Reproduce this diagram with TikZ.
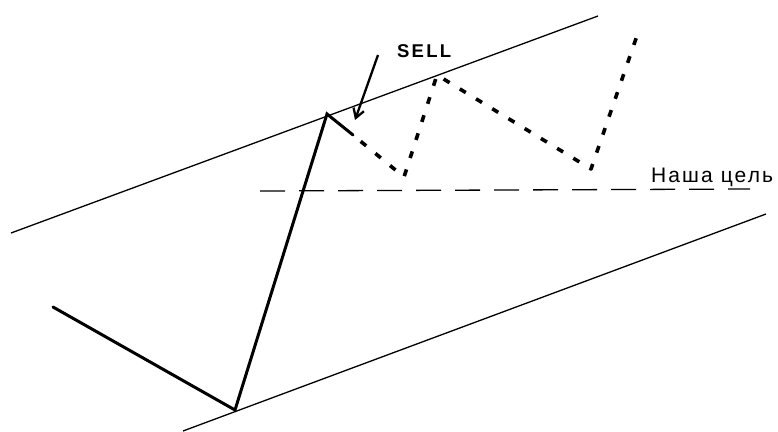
\documentclass[tikz,border=0pt]{standalone}
\usepackage{fontspec}
\setmainfont{Liberation Sans}
\newfontfamily\spacedfont[LetterSpace=10]{Liberation Sans}
\newfontfamily\sellfont[LetterSpace=12]{Liberation Sans}
\usetikzlibrary{arrows.meta}
\begin{document}
\begin{tikzpicture}[x=1pt,y=-1pt,
  channel/.style={line width=1.3pt},
  price/.style={line width=3pt,line cap=round,line join=miter},
  forecast/.style={line width=3.6pt,dash pattern=on 7pt off 12pt,dash phase=-10pt,line join=round},
  target/.style={line width=1.3pt,dash pattern=on 25pt off 14pt},
  lbl/.style={inner sep=0pt,anchor=base west}]
\useasboundingbox (0,0) rectangle (778,431);
% channel lines
\coordinate (u1) at (11,233);
\coordinate (u2) at (598,16);
\coordinate (l1) at (183,431);
\coordinate (l2) at (766,214);
\draw[channel] (u1) -- (u2);
\draw[channel] (l1) -- (l2);
% price path
\coordinate (p0) at (53,307);
\coordinate (p1) at (235,410);
\coordinate (p2) at (327,114);
\coordinate (p3) at (353,135);
\draw[price] (p0) -- (p1) -- (p2) -- (p3);
% forecast dotted path
\coordinate (f1) at (404,177);
\coordinate (f2) at (437,75);
\coordinate (f3) at (591,169);
\coordinate (f4) at (640,27);
\draw[forecast] (p3) -- (f1) -- (f2) -- (f3) -- (f4);
% target line
\coordinate (t1) at (260,191);
\coordinate (t2) at (750,189);
\draw[target] (t1) -- (t2);
\node[lbl] (goal) at (651,182) {\spacedfont\fontsize{21}{21}\selectfont Наша цель};
% SELL
\node[lbl] (sell) at (397,57) {\sellfont\bfseries\fontsize{18.5}{18.5}\selectfont SELL};
\coordinate (a1) at (378,55);
\coordinate (a2) at (355,120);
\draw[line width=2.3pt,-{Straight Barb[length=9pt,width=11pt,line width=2.3pt]}] (a1) -- (a2);
\end{tikzpicture}
\end{document}
